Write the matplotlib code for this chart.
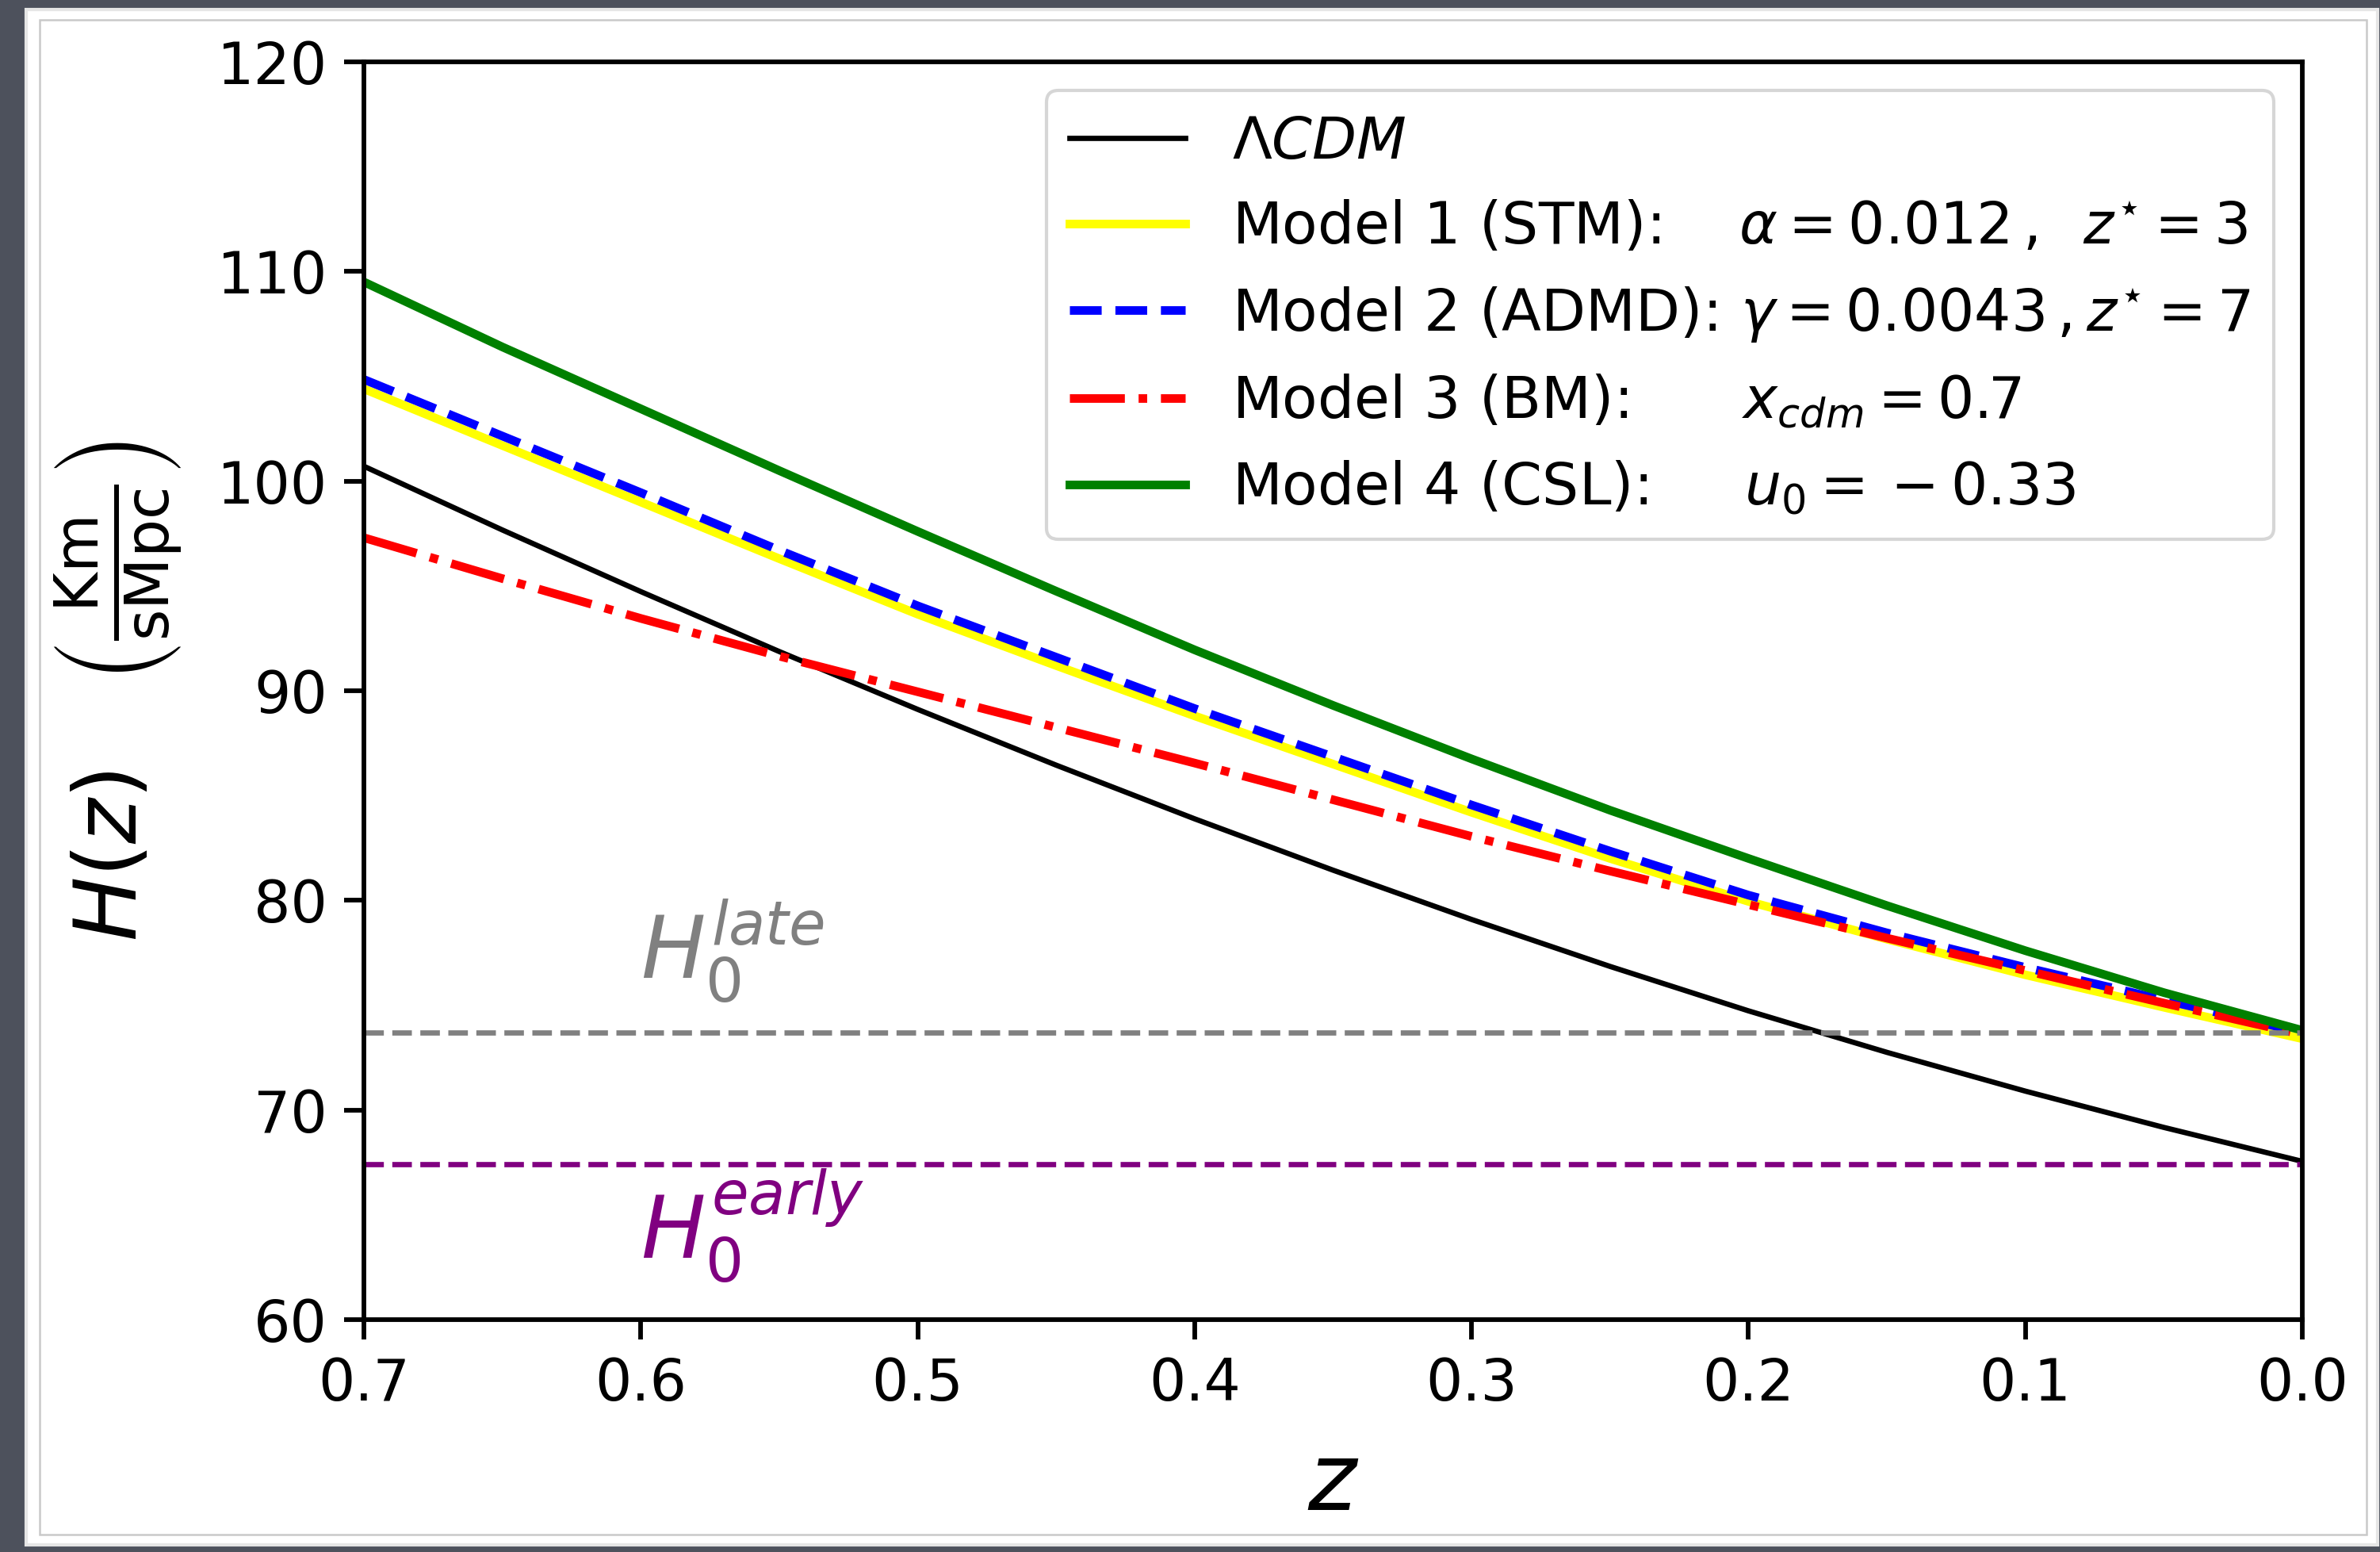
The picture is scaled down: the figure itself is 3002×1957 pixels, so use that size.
import numpy as np
import matplotlib
matplotlib.use('Agg')
import matplotlib.pyplot as plt
from matplotlib.patches import Rectangle

# redshift grid and H(z) values
z = [0.70, 0.65, 0.60, 0.55, 0.50, 0.45, 0.40, 0.35, 0.30, 0.25, 0.20, 0.15, 0.10, 0.05, 0.00]

H_lcdm = [100.71, 97.67, 94.73, 91.87, 89.11, 86.45, 83.89, 81.44, 79.09, 76.85, 74.73, 72.75, 70.9, 69.17, 67.55]
H_stm = [104.4, 101.7, 99.0, 96.3, 93.65, 91.2, 88.8, 86.5, 84.2, 82.0, 79.95, 78.15, 76.45, 74.9, 73.4]
H_admd = [104.85, 102.15, 99.45, 96.7, 94.05, 91.6, 89.15, 86.85, 84.55, 82.35, 80.25, 78.45, 76.8, 75.25, 73.7]
H_bm = [97.3, 95.35, 93.45, 91.65, 89.95, 88.25, 86.55, 84.8, 83.05, 81.4, 79.8, 78.2, 76.65, 75.1, 73.6]
H_csl = [109.5, 106.4, 103.45, 100.5, 97.6, 94.75, 91.95, 89.3, 86.75, 84.3, 82.0, 79.75, 77.6, 75.6, 73.8]

H0_late = 73.7
H0_early = 67.4

labels = [r'$\Lambda CDM$',
          r'Model 1 (STM):    $\alpha=0.012\,,\;\; z^{\star}=3$',
          r'Model 2 (ADMD): $\gamma=0.0043\,,z^{\star}=7$',
          r'Model 3 (BM):      $x_{cdm}=0.7$',
          r'Model 4 (CSL):     $u_0={}-0.33$']

xticks = [0.7, 0.6, 0.5, 0.4, 0.3, 0.2, 0.1, 0.0]
yticks = [60, 70, 80, 90, 100, 110, 120]

fig = plt.figure(figsize=(3002 / 300, 1957 / 300), dpi=300, facecolor='#4d515c')

# paper sheet behind the plot
fig.patches.append(Rectangle((33 / 3002, 9 / 1957), 2966 / 3002, 1936 / 1957,
                             transform=fig.transFigure, facecolor='white',
                             edgecolor='#e6e6e6', lw=1.0, zorder=-2))
fig.patches.append(Rectangle((50 / 3002, 22 / 1957), 2935 / 3002, 1910 / 1957,
                             transform=fig.transFigure, facecolor='none',
                             edgecolor='#c9c9c9', lw=0.6, zorder=-1))

ax = fig.add_axes([459 / 3002, 1 - 1664 / 1957, (2904 - 459) / 3002, (1664 - 78) / 1957])

ax.plot(z, H_lcdm, '-', color='black', lw=1.6, label=labels[0])
ax.plot(z, H_stm, '-', color='yellow', lw=2.6, label=labels[1])
ax.plot(z, H_admd, '--', color='blue', lw=2.6, label=labels[2])
ax.plot(z, H_bm, '-.', color='red', lw=2.6, label=labels[3])
ax.plot(z, H_csl, '-', color='green', lw=2.6, label=labels[4])

ax.axhline(H0_late, color='grey', ls='--', lw=1.6)
ax.axhline(H0_early, color='purple', ls='--', lw=1.6)

ax.text(0.6, 76.3, r'$H_0^{late}$', color='grey', fontsize=26, ha='left', va='baseline')
ax.text(0.6, 62.9, r'$H_0^{early}$', color='purple', fontsize=26, ha='left', va='baseline')

ax.set_xlim(0.7, 0.0)
ax.set_ylim(60, 120)
ax.set_xticks(xticks)
ax.set_xticklabels(['%.1f' % t for t in xticks])
ax.set_yticks(yticks)

for s in ax.spines.values():
    s.set_linewidth(1.4)
ax.tick_params(direction='out', length=6, width=1.4, labelsize=17.5, pad=5)

ax.set_xlabel(r'$z$', fontsize=28, labelpad=8)
ax.set_ylabel(r'$H(z)\quad\left(\frac{\rm Km}{\rm sMpc}\right)$', fontsize=26, labelpad=10)

ax.legend(loc='upper right', fontsize=17.5, handlelength=2.0, labelspacing=0.5)

fig.savefig('out.png', dpi=300, facecolor=fig.get_facecolor())
